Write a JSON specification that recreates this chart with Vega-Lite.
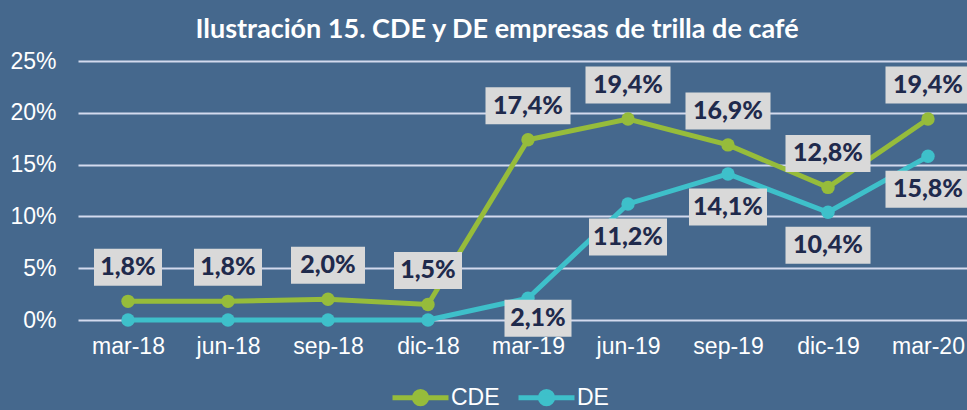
{
  "$schema": "https://vega.github.io/schema/vega-lite/v6.json",
  "autosize": {"type": "none"},
  "width": 900,
  "height": 259,
  "padding": {"left": 78, "top": 61, "right": 0, "bottom": 90},
  "background": "#45688D",
  "title": {
    "text": "Ilustración 15. CDE y DE empresas de trilla de café",
    "font": "Lato",
    "fontSize": 27,
    "fontWeight": "bold",
    "color": "#FFFFFF",
    "anchor": "middle",
    "frame": "group",
    "baseline": "alphabetic",
    "offset": 21,
    "dx": -31,
    "dy": 36
  },
  "data": {
    "values": [
      {"fecha": "mar-18", "serie": "CDE", "v": 1.8},
      {"fecha": "jun-18", "serie": "CDE", "v": 1.8},
      {"fecha": "sep-18", "serie": "CDE", "v": 2.0},
      {"fecha": "dic-18", "serie": "CDE", "v": 1.5},
      {"fecha": "mar-19", "serie": "CDE", "v": 17.4},
      {"fecha": "jun-19", "serie": "CDE", "v": 19.4},
      {"fecha": "sep-19", "serie": "CDE", "v": 16.9},
      {"fecha": "dic-19", "serie": "CDE", "v": 12.8},
      {"fecha": "mar-20", "serie": "CDE", "v": 19.4},
      {"fecha": "mar-18", "serie": "DE", "v": 0},
      {"fecha": "jun-18", "serie": "DE", "v": 0},
      {"fecha": "sep-18", "serie": "DE", "v": 0},
      {"fecha": "dic-18", "serie": "DE", "v": 0},
      {"fecha": "mar-19", "serie": "DE", "v": 2.1},
      {"fecha": "jun-19", "serie": "DE", "v": 11.2},
      {"fecha": "sep-19", "serie": "DE", "v": 14.1},
      {"fecha": "dic-19", "serie": "DE", "v": 10.4},
      {"fecha": "mar-20", "serie": "DE", "v": 15.8}
    ]
  },
  "transform": [
    {"calculate": "replace(format(datum.v, '.1f'), '.', ',') + '%'", "as": "lab"}
  ],
  "encoding": {
    "x": {
      "field": "fecha",
      "type": "ordinal",
      "sort": null,
      "scale": {"type": "point", "padding": 0.5},
      "axis": {
        "title": null,
        "domain": false,
        "ticks": false,
        "grid": false,
        "labelAngle": 0,
        "labelFont": "Liberation Sans",
        "labelFontSize": 23,
        "labelColor": "#FFFFFF",
        "labelPadding": 15
      }
    },
    "y": {
      "field": "v",
      "type": "quantitative",
      "scale": {"domain": [0, 25], "nice": false},
      "axis": {
        "title": null,
        "domain": false,
        "ticks": false,
        "values": [0, 5, 10, 15, 20, 25],
        "labelExpr": "datum.value + '%'",
        "labelFont": "Liberation Sans",
        "labelFontSize": 23,
        "labelColor": "#FFFFFF",
        "labelPadding": 22,
        "gridColor": "#D3DAEE",
        "gridWidth": 2
      }
    }
  },
  "layer": [
    {
      "mark": {"type": "line", "strokeWidth": 5},
      "encoding": {
        "color": {
          "field": "serie",
          "type": "nominal",
          "scale": {"domain": ["CDE", "DE"], "range": ["#96BC3B", "#3EC0CA"]},
          "legend": {
            "title": null,
            "orient": "none",
            "legendX": 312,
            "legendY": 306,
            "direction": "horizontal",
            "padding": 0,
            "symbolType": "M-1,0L1,0M-0.22,0A0.22,0.22,0,1,1,0.22,0A0.22,0.22,0,1,1,-0.22,0Z",
            "symbolSize": 3136,
            "symbolStrokeWidth": 5,
            "labelFont": "Liberation Sans",
            "labelFontSize": 23,
            "labelColor": "#FFFFFF",
            "labelOffset": 0,
            "columnPadding": 8,
            "encode": {
              "symbols": {
                "update": {
                  "stroke": {"scale": "color", "field": "value"},
                  "fill": {"scale": "color", "field": "value"},
                  "strokeWidth": {"value": 5},
                  "opacity": {"value": 1}
                }
              }
            }
          }
        }
      }
    },
    {
      "mark": {"type": "point", "filled": true, "size": 180, "opacity": 1},
      "encoding": {
        "color": {"field": "serie", "type": "nominal"}
      }
    },
    {
      "transform": [{"filter": "datum.serie == 'CDE'"}],
      "mark": {"type": "point", "filled": true, "size": 10000, "opacity": 1, "color": "#D9D9D9", "yOffset": -34},
      "encoding": {
        "shape": {
          "condition": [
            {"test": "datum.v >= 10", "value": "M-0.85,-0.37H0.85V0.37H-0.85Z"},
            {"test": "datum.lab == '2,0%'", "value": "M-0.74,-0.37H0.74V0.37H-0.74Z"}
          ],
          "value": "M-0.68,-0.37H0.68V0.37H-0.68Z"
        }
      }
    },
    {
      "transform": [{"filter": "datum.serie == 'CDE'"}],
      "mark": {"type": "text", "font": "Lato", "fontSize": 25, "fontWeight": 900, "color": "#1F2A4C", "baseline": "middle", "align": "center", "yOffset": -34},
      "encoding": {"text": {"field": "lab"}}
    },
    {
      "transform": [{"filter": "datum.serie == 'DE' && datum.v >= 5"}],
      "mark": {"type": "point", "filled": true, "size": 10000, "opacity": 1, "color": "#D9D9D9", "yOffset": 33},
      "encoding": {
        "shape": {
          "condition": [
            {"test": "datum.lab == '11,2%' || datum.lab == '14,1%'", "value": "M-0.78,-0.37H0.78V0.37H-0.78Z"}
          ],
          "value": "M-0.85,-0.37H0.85V0.37H-0.85Z"
        }
      }
    },
    {
      "transform": [{"filter": "datum.serie == 'DE' && datum.v >= 5"}],
      "mark": {"type": "text", "font": "Lato", "fontSize": 25, "fontWeight": 900, "color": "#1F2A4C", "baseline": "middle", "align": "center", "yOffset": 33},
      "encoding": {"text": {"field": "lab"}}
    },
    {
      "transform": [{"filter": "datum.serie == 'DE' && datum.v > 0 && datum.v < 5"}],
      "mark": {"type": "point", "filled": true, "size": 10000, "opacity": 1, "color": "#D9D9D9", "xOffset": 10, "yOffset": 20},
      "encoding": {
        "shape": {"value": "M-0.67,-0.37H0.67V0.37H-0.67Z"}
      }
    },
    {
      "transform": [{"filter": "datum.serie == 'DE' && datum.v > 0 && datum.v < 5"}],
      "mark": {"type": "text", "font": "Lato", "fontSize": 25, "fontWeight": 900, "color": "#1F2A4C", "baseline": "middle", "align": "center", "xOffset": 10, "yOffset": 20},
      "encoding": {"text": {"field": "lab"}}
    }
  ],
  "config": {
    "view": {"stroke": null}
  }
}
